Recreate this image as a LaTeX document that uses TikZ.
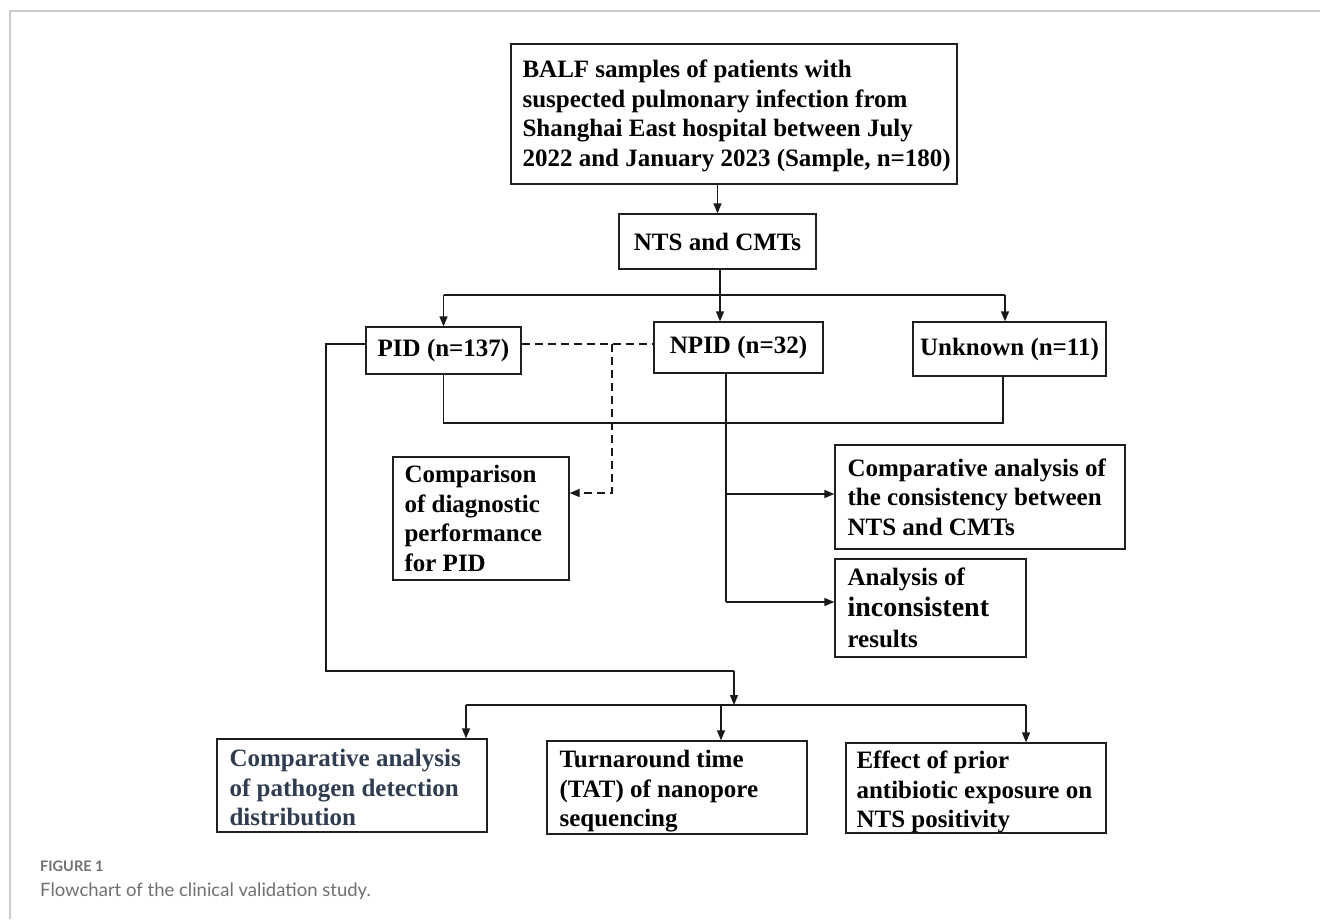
\documentclass[tikz,border=0pt]{standalone}
\usepackage{fontspec}
\setmainfont{Liberation Serif}
\newfontfamily\capfont{Lato}
\usetikzlibrary{arrows.meta}
\definecolor{slate}{HTML}{303C50}
\definecolor{capgray}{HTML}{707070}
\definecolor{framegray}{HTML}{CCCCCC}
\begin{document}
\begin{tikzpicture}[x=1pt,y=-1pt,
  box/.style={draw=black!88, line width=1.3pt, rectangle, inner sep=0pt,
    font=\fontsize{25}{29.5}\selectfont\bfseries},
  txt/.style={inner sep=0pt, align=left, anchor=west,
    font=\fontsize{25}{29.5}\selectfont\bfseries},
  conn/.style={line width=1.3pt, draw=black!90},
  arr/.style={conn, -{Triangle[length=10pt,width=8pt]}},
  dsh/.style={conn, dash pattern=on 8pt off 5pt}
]
\useasboundingbox (0,0) rectangle (1320,919);
\draw[framegray, line width=1.2pt] (10,919) -- (10,11) -- (1320,11);

% boxes
\node[box, minimum width=446pt, minimum height=140pt] (top) at (734,114) {};
\node[txt, xshift=12pt, yshift=-2pt] (top-t) at (top.west)
  {BALF samples of patients with\\suspected pulmonary infection from\\Shanghai East hospital between July\\2022 and January 2023 (Sample, n=180)};
\node[box, minimum width=197pt, minimum height=55pt] (nts) at (717.5,241.5) {NTS and CMTs};
\node[box, minimum width=155pt, minimum height=47pt] (pid) at (443.5,350.5) {PID (n=137)};
\node[box, minimum width=169pt, minimum height=51pt] (npid) at (738.5,347.5) {NPID (n=32)};
\node[box, minimum width=193pt, minimum height=54pt] (unk) at (1009.5,349) {Unknown (n=11)};
\node[box, minimum width=176pt, minimum height=123pt] (comp) at (481,518.5) {};
\node[txt, xshift=12pt] (comp-t) at (comp.west)
  {Comparison\\of diagnostic\\performance\\for PID};
\node[box, minimum width=290pt, minimum height=104pt] (cons) at (980,497) {};
\node[txt, xshift=13pt] (cons-t) at (cons.west)
  {Comparative analysis of\\the consistency between\\NTS and CMTs};
\node[box, minimum width=191pt, minimum height=98pt] (inc) at (930.5,608) {};
\node[txt, xshift=13pt, font=\fontsize{25}{31}\selectfont\bfseries] (inc-t) at (inc.west)
  {Analysis of\\{\fontsize{28}{31}\selectfont inconsistent}\\results};
\node[box, minimum width=270pt, minimum height=93pt] (pat) at (352,785.5) {};
\node[txt, xshift=13pt, yshift=-2pt, text=slate] (pat-t) at (pat.west)
  {Comparative analysis\\of pathogen detection\\distribution};
\node[box, minimum width=260pt, minimum height=93pt] (tat) at (677,787.5) {};
\node[txt, xshift=13pt, yshift=-4pt] (tat-t) at (tat.west)
  {Turnaround time\\(TAT) of nanopore\\sequencing};
\node[box, minimum width=260pt, minimum height=90pt] (eff) at (976,788) {};
\node[txt, xshift=11pt, yshift=-4pt] (eff-t) at (eff.west)
  {Effect of prior\\antibiotic exposure on\\NTS positivity};

% coordinates
\coordinate (bj) at (720,295);
\coordinate (jb) at (0,423);
\coordinate (nv) at (726,602);
\coordinate (dv) at (612,344);
\coordinate (da) at (612,493);
\coordinate (pl) at (326,671);
\coordinate (bm) at (734,705);
\coordinate (b1) at (466,705);
\coordinate (b2) at (721,705);
\coordinate (b3) at (1026,705);

% connectors
\draw[arr] (top.south -| nts.north) -- (nts.north);
\draw[conn] (nts.south -| bj) -- (bj);
\draw[conn] (pid.north |- bj) -- (bj -| 1005,0);
\draw[arr] (pid.north |- bj) -- (pid.north);
\draw[arr] (bj) -- (bj |- npid.north);
\draw[arr] (bj -| 1005,0) -- (1005,0 |- unk.north);
\draw[conn] (pid.south) -- (pid.south |- jb) -- (1003,0 |- jb) -- (1003,0 |- unk.south);
\draw[conn] (nv |- npid.south) -- (nv);
\draw[arr] (nv |- 0,494) -- (cons.west |- 0,494);
\draw[arr] (nv) -- (nv -| inc.west);
\draw[dsh] (pid.east |- dv) -- (npid.west |- dv);
\draw[dsh, -{Triangle[length=10pt,width=8pt]}] (dv) -- (da) -- (da -| comp.east);
\draw[conn] (pid.west |- dv) -- (pl |- dv) -- (pl) -- (bm |- pl);
\draw[arr] (bm |- pl) -- (bm);
\draw[conn] (b1) -- (b3);
\draw[arr] (b1) -- (b1 |- pat.north);
\draw[arr] (b2) -- (b2 |- tat.north);
\draw[arr] (b3) -- (b3 |- eff.north);

% caption
\node[anchor=base west, inner sep=0pt, font=\capfont\bfseries\fontsize{14.5}{16}\selectfont, text=capgray] (fig) at (40,871) {FIGURE 1};
\node[anchor=base west, inner sep=0pt, font=\capfont\fontsize{18.5}{21}\selectfont, text=capgray] (cap) at (40,896) {Flowchart of the clinical validation study.};
\end{tikzpicture}
\end{document}
